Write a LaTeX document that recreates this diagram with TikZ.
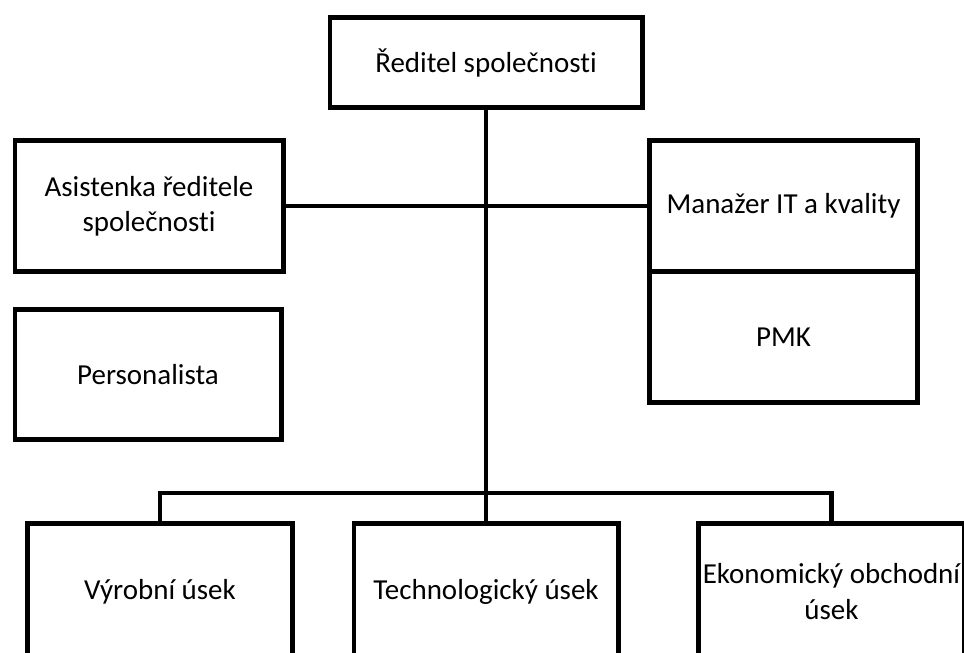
\documentclass[tikz,border=0pt]{standalone}
\usepackage{fontspec}
\setmainfont[Ligatures=NoCommon]{Carlito}
\usetikzlibrary{positioning}
\tikzset{
  orgbox/.style={draw=black, line width=3.5pt, fill=white, align=center, inner sep=1pt,
    font=\fontsize{20.6}{25}\selectfont},
  orgline/.style={draw=black, line width=3.5pt}
}

\begin{document}
\begin{tikzpicture}[x=0.025cm,y=-0.025cm]
\useasboundingbox (0,0) rectangle (964,652);
\clip (0,0) rectangle (964,652);
% vedeni
\node[orgbox, minimum width=7.8cm, minimum height=2.25cm] (reditel) at (486,62.5) {Ředitel společnosti};
\node[orgbox, minimum width=6.7cm, minimum height=3.28cm] (asistenka) at (149,206) {Asistenka ředitele\\společnosti};
\node[orgbox, minimum width=6.65cm, minimum height=3.25cm] (personalista) at (148,374.5) {Personalista};
\node[orgbox, minimum width=6.7cm, minimum height=3.26cm] (manazer) at (783.5,206) {Manažer IT a kvality};
\node[orgbox, minimum width=6.7cm, minimum height=3.29cm] (pmk) at (783.5,337) {PMK};
% useky
\node[orgbox, minimum width=6.63cm, minimum height=3.4cm] (vyroba) at (160,591.5) {Výrobní úsek};
\node[orgbox, minimum width=6.6cm, minimum height=3.4cm] (technologie) at (486,591.5) {Technologický úsek};
\node[orgbox, minimum width=6.65cm, minimum height=3.4cm] (ekonomika) at (831.5,591.5) {Ekonomický obchodní\\úsek};
\coordinate (rozvod) at (486,493);

\draw[orgline] (asistenka.east) -- (manazer.west);
\draw[orgline] (reditel.south) -- (technologie.north);
\draw[orgline] (vyroba.north) |- (rozvod) -| (ekonomika.north);
\end{tikzpicture}
\end{document}
